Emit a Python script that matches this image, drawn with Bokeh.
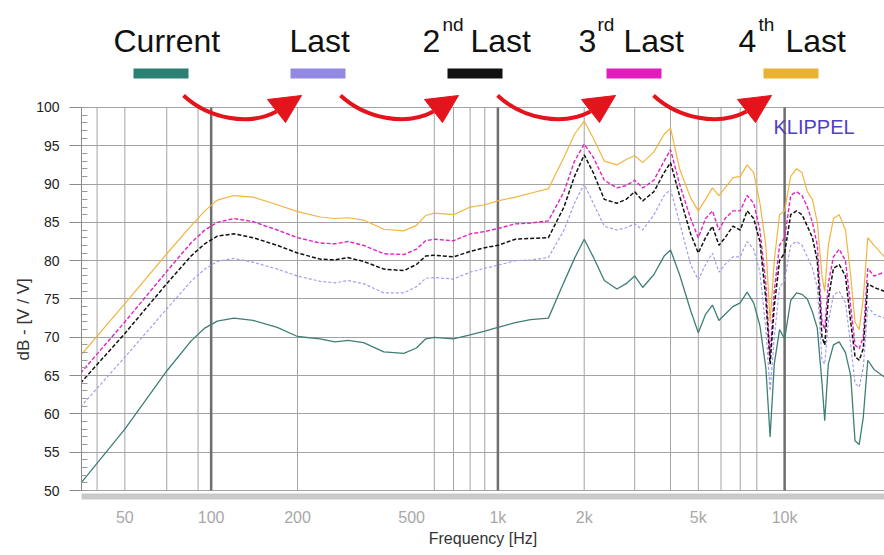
from bokeh.plotting import figure
from bokeh.models import Range1d, LinearScale, FixedTicker, Title
from bokeh.embed import file_html
from bokeh.resources import INLINE
from bokeh.core.properties import value

# ---------------- data ----------------
FREQ = [35, 50, 70, 85, 95, 105, 120, 140, 170, 200,
        240, 270, 300, 340, 400, 470, 520, 560, 600, 700,
        800, 900, 1000, 1150, 1300, 1500, 1700, 1850, 2000, 2150,
        2350, 2600, 2800, 3000, 3200, 3500, 3800, 4000, 4300, 4700,
        5000, 5300, 5600, 5900, 6200, 6600, 7000, 7400, 7800, 8200,
        8600, 8900, 9200, 9600, 10000, 10500, 11000, 11500, 12000, 12500,
        13000, 13500, 13800, 14200, 14800, 15500, 16300, 17000, 17600, 18200,
        18800, 19500, 20500, 22300]

CURRENT = [50.9, 58.0, 65.6, 69.5, 71.2, 72.1, 72.5, 72.2, 71.3, 70.1,
           69.8, 69.4, 69.6, 69.3, 68.1, 67.9, 68.6, 69.8, 70.0, 69.8,
           70.3, 70.8, 71.3, 71.9, 72.3, 72.5, 77.2, 80.3, 82.8, 80.5,
           77.4, 76.3, 77.0, 78.0, 76.5, 78.2, 80.6, 81.4, 78.2, 73.5,
           70.6, 73.0, 74.2, 72.2, 73.0, 74.0, 74.5, 75.9, 74.5, 71.5,
           66.0, 57.0, 66.5, 71.0, 69.8, 74.8, 75.8, 75.6, 75.0, 73.3,
           71.2, 64.0, 59.1, 66.5, 69.0, 69.4, 68.0, 65.0, 56.5, 56.0,
           59.5, 67.0, 65.8, 64.8]

LAST = [60.9, 67.4, 73.7, 77.3, 78.9, 79.9, 80.3, 79.8, 78.9, 78.0,
        77.3, 77.1, 77.4, 77.0, 75.8, 75.8, 76.6, 77.7, 77.8, 77.6,
        78.5, 79.0, 79.4, 80.0, 80.1, 80.4, 84.0, 87.5, 90.0, 87.5,
        84.5, 84.0, 84.3, 84.8, 84.0, 86.0, 88.5, 89.3, 85.0, 79.5,
        77.5, 79.5, 81.0, 78.5, 79.5, 80.5, 80.5, 82.5, 81.5, 78.5,
        71.0, 63.0, 70.0, 76.5, 77.5, 82.0, 82.5, 82.0, 80.5, 79.0,
        76.5, 67.0, 66.5, 72.0, 75.5, 76.0, 74.5, 69.0, 64.0, 63.5,
        66.0, 74.0, 73.0, 72.5]

SECOND_LAST = [64.0, 70.5, 77.0, 80.6, 82.2, 83.2, 83.5, 83.0, 82.0, 81.0,
               80.2, 80.1, 80.4, 79.9, 78.9, 78.7, 79.5, 80.6, 80.7, 80.5,
               81.2, 81.7, 82.0, 82.8, 82.9, 83.0, 87.0, 91.0, 93.8, 91.5,
               88.0, 87.5, 88.0, 89.0, 87.8, 89.0, 91.5, 92.8, 88.5, 83.5,
               81.0, 83.0, 84.5, 82.0, 83.0, 84.5, 84.0, 86.5, 85.5, 82.5,
               75.0, 66.5, 74.0, 80.0, 81.0, 86.0, 86.5, 86.0, 84.5, 83.0,
               80.0, 70.0, 69.0, 75.0, 79.0, 79.5, 78.0, 72.0, 67.5, 67.0,
               68.5, 77.0, 76.5, 76.0]

THIRD_LAST = [65.3, 72.0, 78.6, 82.3, 84.0, 85.0, 85.5, 85.1, 84.0, 83.0,
              82.3, 82.2, 82.5, 82.0, 80.9, 80.8, 81.5, 82.6, 82.8, 82.6,
              83.5, 83.8, 84.2, 84.8, 84.9, 85.2, 89.0, 93.0, 95.2, 93.5,
              90.5, 89.5, 89.8, 90.5, 89.5, 90.5, 93.0, 94.5, 90.0, 85.5,
              83.0, 85.5, 86.5, 84.0, 85.5, 86.5, 86.5, 88.5, 87.5, 84.0,
              77.0, 67.5, 76.0, 82.0, 83.0, 88.5, 89.0, 88.5, 87.0, 85.0,
              82.0, 72.0, 71.0, 77.0, 80.5, 81.5, 80.0, 74.0, 69.0, 68.5,
              70.0, 79.0, 78.0, 78.5]

FOURTH_LAST = [67.6, 74.4, 80.9, 84.5, 86.5, 87.9, 88.5, 88.3, 87.3, 86.4,
               85.7, 85.5, 85.6, 85.3, 84.1, 83.9, 84.6, 85.9, 86.2, 86.0,
               87.0, 87.3, 87.8, 88.3, 88.8, 89.4, 93.5, 96.5, 98.2, 96.0,
               93.0, 92.5, 93.2, 93.7, 92.8, 94.2, 96.5, 97.3, 92.0, 88.2,
               86.5, 88.0, 89.5, 88.5, 89.5, 90.8, 91.0, 92.5, 91.5, 87.5,
               82.0, 72.0, 80.0, 86.0, 86.5, 91.0, 92.0, 91.5, 89.0, 88.0,
               85.0, 78.0, 76.0, 82.0, 85.5, 86.0, 84.0, 78.0, 72.0, 71.0,
               75.0, 83.0, 82.0, 80.5]

SERIES_NAMES = ["Current", "Last", "2nd Last", "3rd Last", "4th Last"]
SERIES_VALUES = [CURRENT, LAST, SECOND_LAST, THIRD_LAST, FOURTH_LAST]

Y_TICKS = [50, 55, 60, 65, 70, 75, 80, 85, 90, 95, 100]
Y_MINOR = list(range(50, 101))
X_TICKS = [50, 100, 200, 500, 1000, 2000, 5000, 10000]
X_TICK_LABELS = ["50", "100", "200", "500", "1k", "2k", "5k", "10k"]
GRID_FREQS = [40, 50, 70, 90, 200, 600, 700, 800, 900, 2000, 3000, 4000,
              5000, 6000, 7000, 8000]
GRID_FREQS_MAJOR = [100, 1000, 10000]

# ---------------- styles / layout ----------------
COLORS = ["#3f7f76", "#a39cf0", "#111111", "#e223c2", "#f1b53e"]
BAR_COLORS = ["#2b8074", "#9189e2", "#111111", "#e11dbd", "#e9b232"]
DASHES = ["solid", "3 2", "4 2", "4 2", "solid"]
WIDTHS = [1.3, 1.2, 1.5, 1.4, 1.2]
DRAW_ORDER = [4, 1, 3, 2, 0]

W, H = 884, 555
FRAME_LEFT, FRAME_BOTTOM = 81, 496
PX_PER_DB = 383.3 / 50.0
Y_START = 50 - (FRAME_BOTTOM - 490) / PX_PER_DB
Y_END = 100 + 107 / PX_PER_DB

p = figure(width=W, height=H, x_axis_type="log",
           x_range=Range1d(35.3, 22300), y_range=Range1d(Y_START, Y_END),
           output_backend="svg", toolbar_location=None,
           min_border_left=FRAME_LEFT, min_border_right=0,
           min_border_top=0, min_border_bottom=H - FRAME_BOTTOM)
p.extra_x_ranges = {"px": Range1d(FRAME_LEFT, W)}
p.extra_y_ranges = {"px": Range1d(FRAME_BOTTOM, 0)}
p.extra_x_scales = {"px": LinearScale()}
p.extra_y_scales = {"px": LinearScale()}

p.outline_line_color = None
p.background_fill_color = "white"
p.border_fill_color = "white"

# grids
p.xgrid.visible = False
p.ygrid.grid_line_color = "#a3a3a3"
p.ygrid.grid_line_width = 1
p.segment(x0=GRID_FREQS, y0=50, x1=GRID_FREQS, y1=100,
          line_color="#a3a3a3", line_width=1)
p.segment(x0=GRID_FREQS_MAJOR, y0=50, x1=GRID_FREQS_MAJOR, y1=100,
          line_color="#6e6e6e", line_width=2.5)

# y axis
p.yaxis.ticker = FixedTicker(ticks=Y_TICKS, minor_ticks=Y_MINOR)
p.yaxis.bounds = (50, 100)
p.yaxis.axis_line_color = "#8a8a8a"
p.yaxis.major_tick_line_color = "#8a8a8a"
p.yaxis.minor_tick_line_color = "#9a9a9a"
p.yaxis.major_tick_out = 12
p.yaxis.major_tick_in = 3
p.yaxis.minor_tick_in = 6
p.yaxis.minor_tick_out = 0
p.yaxis.major_label_text_font = "Liberation Sans"
p.yaxis.major_label_text_font_size = "14px"
p.yaxis.major_label_text_color = "#222222"
p.yaxis.major_label_standoff = 10

# y axis title beside the 50..100 dB span
p.add_layout(Title(text="dB - [V / V]", align="left", offset=136,
                   text_font="Liberation Sans", text_font_size="17px",
                   text_font_style="normal", text_color="#333333",
                   standoff=2), "left")

# x axis
p.xaxis.ticker = FixedTicker(ticks=X_TICKS)
p.xaxis.major_label_overrides = dict(zip(X_TICKS, X_TICK_LABELS))
p.xaxis.axis_line_color = "#c9c9c9"
p.xaxis.axis_line_width = 6
p.xaxis.major_tick_line_color = None
p.xaxis.minor_tick_line_color = None
p.xaxis.major_tick_out = 0
p.xaxis.major_tick_in = 0
p.xaxis.major_label_text_font = "Liberation Sans"
p.xaxis.major_label_text_font_size = "16px"
p.xaxis.major_label_text_color = "#a8a8a8"
p.xaxis.major_label_standoff = 12
p.xaxis.axis_label = "Frequency [Hz]"
p.xaxis.axis_label_text_font = "Liberation Sans"
p.xaxis.axis_label_text_font_size = "16px"
p.xaxis.axis_label_text_font_style = "normal"
p.xaxis.axis_label_text_color = "#333333"
p.xaxis.axis_label_standoff = 1

# curves
for i in DRAW_ORDER:
    p.line(FREQ, SERIES_VALUES[i], line_color=COLORS[i], line_width=WIDTHS[i],
           line_dash=DASHES[i])

# ---------------- legend (drawn in pixel coordinates) ----------------
LEGEND_MAIN_X = [113, 289, 422, 470, 578, 623, 738, 785]
LEGEND_MAIN_TEXT = ["Current", "Last", "2", "Last", "3", "Last", "4", "Last"]
LEGEND_SUP_X = [442, 597, 758]
LEGEND_SUP_TEXT = ["nd", "rd", "th"]
BAR_LEFT = [133, 290, 447, 606, 763]
BAR_WIDTH = 55

p.text(x=LEGEND_MAIN_X, y=[40] * len(LEGEND_MAIN_X), text=LEGEND_MAIN_TEXT,
       x_range_name="px", y_range_name="px",
       text_font=value("Liberation Sans"), text_font_size="32px",
       text_baseline="alphabetic", text_align="left", text_color="#111111")
p.text(x=LEGEND_SUP_X, y=[24] * len(LEGEND_SUP_X), text=LEGEND_SUP_TEXT,
       x_range_name="px", y_range_name="px",
       text_font=value("Liberation Sans"), text_font_size="19px",
       text_baseline="alphabetic", text_align="left", text_color="#111111")
p.quad(left=BAR_LEFT, right=[b + BAR_WIDTH for b in BAR_LEFT],
       top=68, bottom=78, fill_color=BAR_COLORS, line_color=None,
       x_range_name="px", y_range_name="px")

# red arrows between the legend entries
ARROW_START = [183, 340, 497, 653]
p.bezier(x0=ARROW_START, y0=[95] * 4,
         x1=[a + 93 for a in ARROW_START], y1=[111] * 4,
         cx0=[a + 25 for a in ARROW_START], cy0=[118] * 4,
         cx1=[a + 65 for a in ARROW_START], cy1=[126] * 4,
         line_color="#e3141c", line_width=4,
         x_range_name="px", y_range_name="px")
p.patches(xs=[[a + 84, a + 118, a + 102] for a in ARROW_START],
          ys=[[99, 95, 122] for a in ARROW_START],
          fill_color="#e3141c", line_color="#e3141c", line_width=1,
          x_range_name="px", y_range_name="px")

p.text(x=[773], y=[126], text=["KLIPPEL"], x_range_name="px", y_range_name="px",
       text_font=value("Liberation Sans"), text_font_size="20px",
       text_baseline="middle", text_align="left", text_color="#4f3fc6")

open("out.html", "w").write(file_html(p, INLINE))
